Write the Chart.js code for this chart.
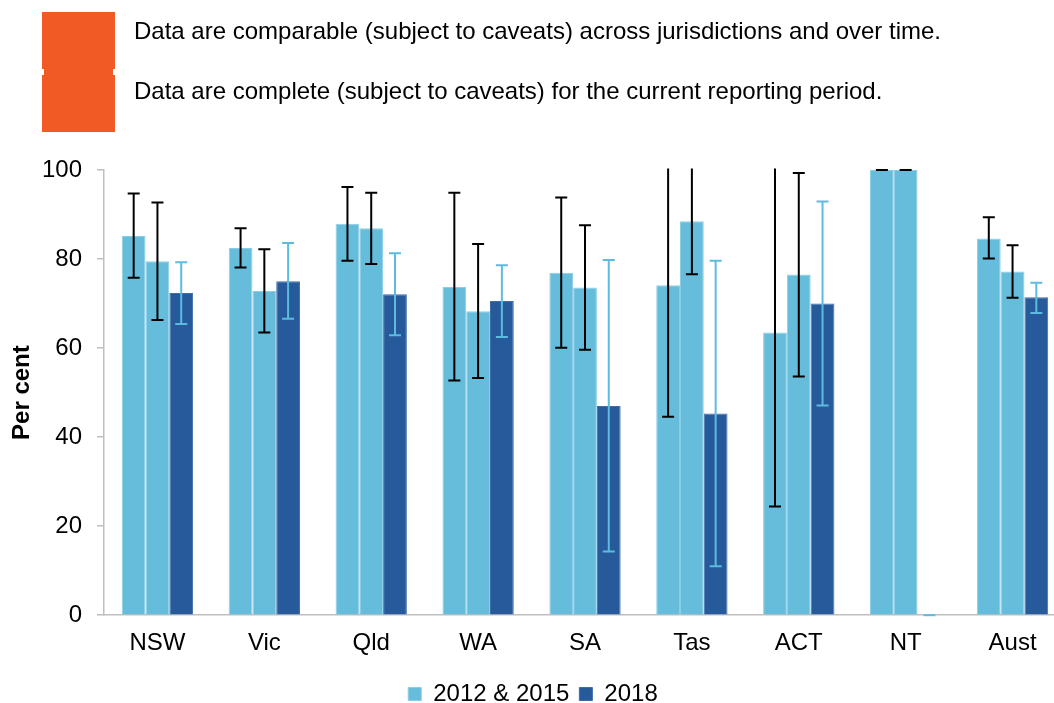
<!DOCTYPE html>
<html><head><meta charset="utf-8">
<script src="https://cdn.jsdelivr.net/npm/chart.js@4.4.1/dist/chart.umd.min.js"></script>
<style>
html,body{margin:0;padding:0;background:#fff;overflow:hidden;width:1054px;height:703px;}
#c{position:absolute;left:0;top:0;}
.hdr{position:absolute;left:134px;font-family:"Liberation Sans",Arial,sans-serif;font-size:24px;line-height:28px;color:#000;white-space:nowrap;}
.orange{position:absolute;background:#F15A24;}
</style></head>
<body>
<canvas id="c" width="1090" height="716"></canvas>
<div class="orange" style="left:42px;top:12px;width:73px;height:57px"></div>
<div class="orange" style="left:44px;top:69px;width:69px;height:6px"></div>
<div class="orange" style="left:42px;top:75px;width:73px;height:57px"></div>
<div class="hdr" style="top:17px">Data are comparable (subject to caveats) across jurisdictions and over time.</div>
<div class="hdr" style="top:77px">Data are complete (subject to caveats) for the current reporting period.</div>
<script>
const categories = ['NSW','Vic','Qld','WA','SA','Tas','ACT','NT','Aust'];
const legendLabels = ['2012 & 2015','2015','2018'];
const values2012 = [85.2,82.5,87.9,73.7,76.9,74.1,63.5,100,84.6];
const low2012    = [75.8,78.1,79.6,52.7,60.1,44.6,24.4,100,80.1];
const high2012   = [94.7,86.9,96.2,94.9,93.8,105,105,100,89.4];
const values2015 = [79.5,72.8,86.9,68.3,73.6,88.5,76.5,100,77.2];
const low2015    = [66.3,63.5,78.9,53.3,59.6,76.6,53.6,100,71.3];
const high2015   = [92.7,82.2,94.9,83.4,87.6,105,99.3,100,83.1];
const values2018 = [72.4,75.0,72.1,70.6,47.0,45.3,70.0,0,71.4];
const low2018    = [65.4,66.6,62.9,62.5,14.3,11.0,47.1,0,67.9];
const high2018   = [79.3,83.6,81.3,78.6,79.8,79.6,92.9,0,74.7];
const yTicks = [0,20,40,60,80,100];

const LIGHT = '#66BCDB', DARK = '#265A9A';

const errorBars = {
  id: 'errorBars',
  afterDatasetsDraw(chart) {
    const ctx = chart.ctx, area = chart.chartArea, ys = chart.scales.y;
    ctx.save();
    ctx.beginPath();
    ctx.rect(area.left, area.top - 1.5, area.right - area.left, area.bottom - area.top + 3);
    ctx.clip();
    chart.data.datasets.forEach((ds, i) => {
      const meta = chart.getDatasetMeta(i);
      meta.data.forEach((bar, j) => {
        const x = bar.x;
        const yl = ys.getPixelForValue(ds.errLow[j]);
        const yh = ys.getPixelForValue(ds.errHigh[j]);
        ctx.strokeStyle = ds.errColor;
        ctx.lineWidth = ds.errWidth;
        ctx.beginPath();
        ctx.moveTo(x, yl); ctx.lineTo(x, yh);
        ctx.moveTo(x - 6, yl); ctx.lineTo(x + 6, yl);
        ctx.moveTo(x - 6, yh); ctx.lineTo(x + 6, yh);
        ctx.stroke();
      });
    });
    ctx.restore();
  }
};

Chart.defaults.font.family = '"Liberation Sans", Arial, sans-serif';
Chart.defaults.font.size = 24;
Chart.defaults.color = '#000';

new Chart(document.getElementById('c'), {
  type: 'bar',
  data: {
    labels: categories,
    datasets: [
      { label: legendLabels[0], data: values2012, backgroundColor: LIGHT, borderColor: '#8ACDE6', borderWidth: 1,
        errLow: low2012, errHigh: high2012, errColor: '#000', errWidth: 2 },
      { label: legendLabels[1], data: values2015, backgroundColor: LIGHT, borderColor: '#8ACDE6', borderWidth: 1,
        errLow: low2015, errHigh: high2015, errColor: '#000', errWidth: 2 },
      { label: legendLabels[2], data: values2018, backgroundColor: DARK, borderColor: '#3E6DA8', borderWidth: 1,
        errLow: low2018, errHigh: high2018, errColor: '#5CBCE0', errWidth: 2 }
    ]
  },
  options: {
    responsive: false,
    animation: false,
    devicePixelRatio: 1,
    layout: { padding: { top: 170, right: 24, left: 0, bottom: 0 } },
    datasets: { bar: { categoryPercentage: 0.667, barPercentage: 1.0 } },
    plugins: {
      legend: {
        position: 'bottom',
        labels: {
          boxWidth: 13, boxHeight: 13, font: { size: 24 }, color: '#000', padding: 10,
          filter: (item) => item.datasetIndex !== 1
        }
      },
      tooltip: { enabled: false }
    },
    scales: {
      x: {
        grid: { display: true, drawOnChartArea: false, drawTicks: false },
        border: { display: true, color: '#BFBFBF', width: 1.5 },
        ticks: { padding: 14, font: { size: 24 }, color: '#000' }
      },
      y: {
        min: 0, max: 100,
        afterBuildTicks: (s) => { s.ticks = yTicks.map(v => ({ value: v })); },
        afterFit: (s) => { s.width = 104; },
        grid: { drawOnChartArea: false, drawTicks: true, tickLength: 7, color: '#BFBFBF', lineWidth: 1.5 },
        border: { display: true, color: '#BFBFBF', width: 1.5 },
        ticks: { padding: 15, font: { size: 24 }, color: '#000' },
        title: { display: true, text: 'Per cent', font: { size: 24, weight: 'bold' }, color: '#000', padding: { top: 8, bottom: 5 } }
      }
    }
  },
  plugins: [errorBars]
});
</script>
</body></html>
